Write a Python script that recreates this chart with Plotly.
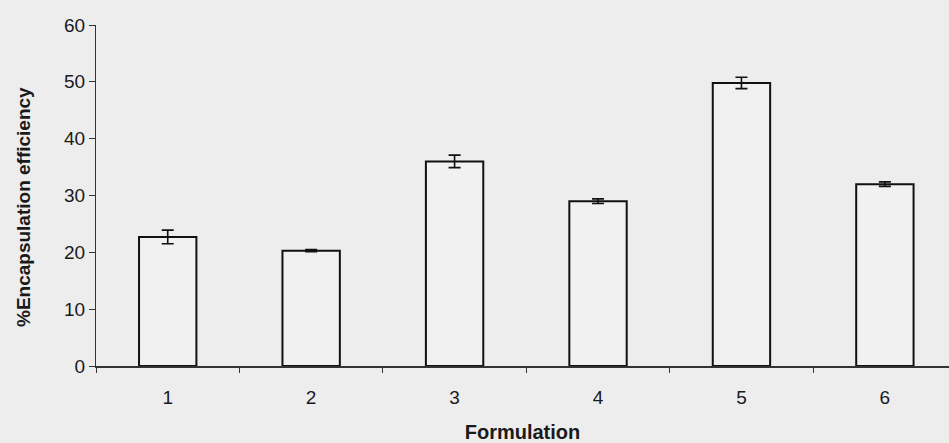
import plotly.graph_objects as go

categories = ["1", "2", "3", "4", "5", "6"]
efficiency = [22.7, 20.3, 36.0, 29.0, 49.8, 32.0]
errors = [1.2, 0.2, 1.1, 0.4, 1.0, 0.4]
y_ticks = [0, 10, 20, 30, 40, 50, 60]

font_family = "Liberation Sans, Arial, sans-serif"

fig = go.Figure(
    go.Bar(
        x=categories,
        y=efficiency,
        width=0.4,
        marker=dict(color="#f1f1f1", line=dict(color="#111111", width=2)),
        error_y=dict(type="data", array=errors, visible=True,
                     color="#111111", thickness=1.6, width=6),
    )
)

fig.update_layout(
    width=949,
    height=443,
    margin=dict(l=96, r=0, t=25, b=77),
    paper_bgcolor="#ededed",
    plot_bgcolor="#ededed",
    showlegend=False,
    font=dict(family=font_family, color="#1a1a1a", size=19),
    bargap=0.6,
)

fig.add_annotation(
    text="<b>%Encapsulation efficiency</b>",
    xref="paper", yref="paper",
    x=-73 / 853, y=159 / 341,
    xanchor="center", yanchor="middle",
    textangle=-90, showarrow=False,
    font=dict(size=19, color="#1a1a1a"),
)

fig.update_yaxes(
    range=[0, 60],
    tickvals=y_ticks,
    showgrid=False,
    zeroline=False,
    showline=True,
    linecolor="#333333",
    linewidth=1,
    ticks="outside",
    ticklen=6,
    tickcolor="#333333",
    tickfont=dict(size=19),
)

fig.update_xaxes(
    type="category",
    range=[-0.5, 5.447],
    showgrid=False,
    zeroline=False,
    showline=True,
    linecolor="#333333",
    linewidth=1.5,
    ticks="outside",
    tickson="boundaries",
    ticklen=5,
    tickcolor="#333333",
    tickfont=dict(size=19),
    ticklabelstandoff=13,
    title=dict(text="<b>Formulation</b>", font=dict(size=20), standoff=20),
)

fig.write_html(
    "out.html",
    config={"displayModeBar": False},
    post_script="document.body.style.margin='0';document.body.style.overflow='hidden';",
)
